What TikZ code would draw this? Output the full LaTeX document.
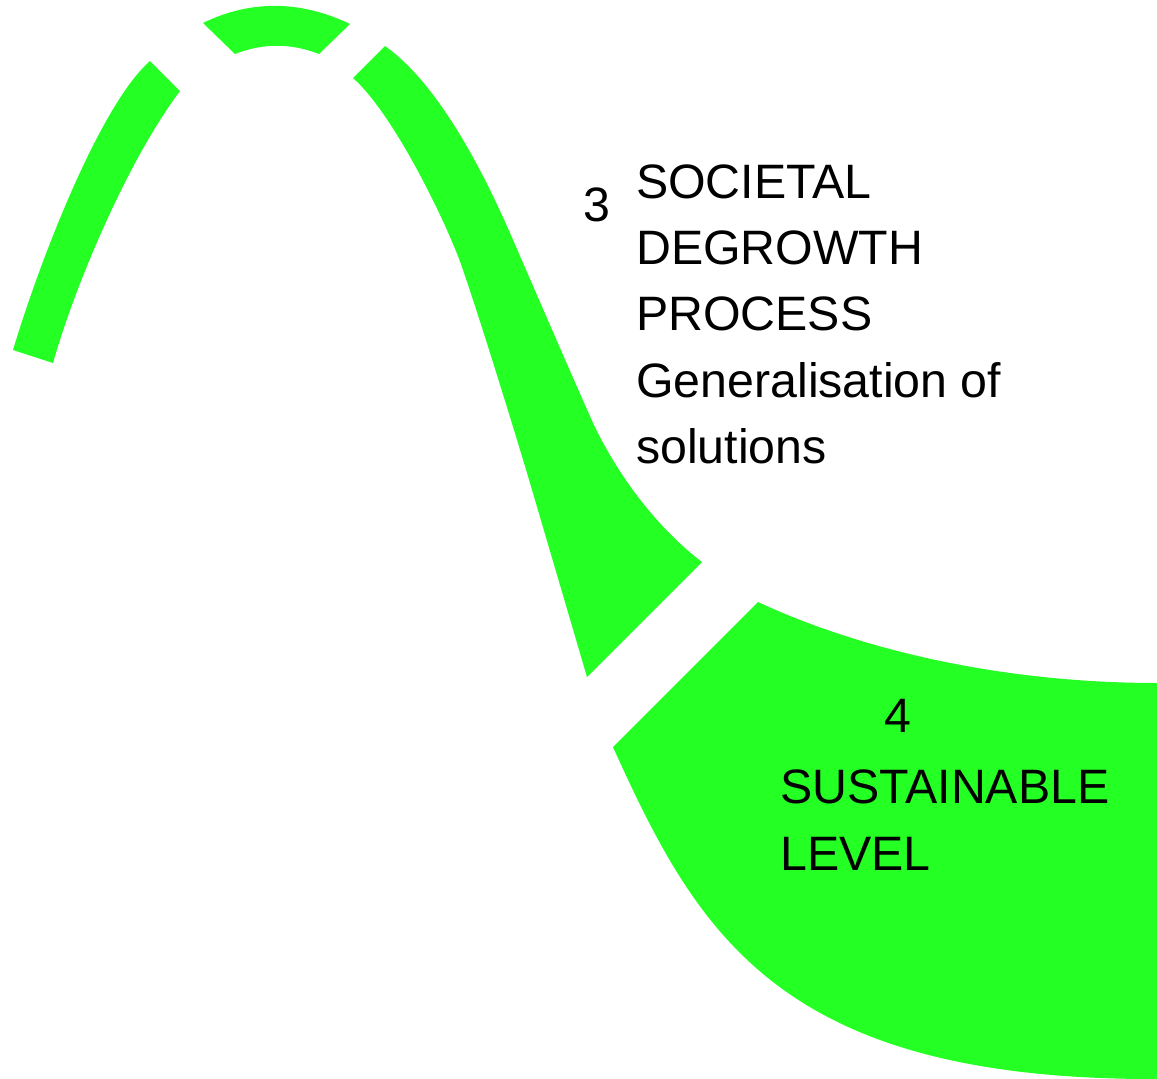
\documentclass[tikz,border=0pt]{standalone}
\usepackage{fontspec}
\setmainfont{Liberation Sans}
\definecolor{bandgreen}{RGB}{36,255,36}
\begin{document}
\begin{tikzpicture}[x=1pt,y=-1pt,
  band/.style={fill=bandgreen},
  lbl/.style={inner sep=0pt, anchor=base west, font=\fontsize{48.3}{58}\selectfont}]
\useasboundingbox (0,0) rectangle (1157,1079);
% segment 1: left rising arc
\fill[band] (13,350) .. controls (40,260) and (100,105) .. (150,61)
  -- (180,91) .. controls (128,160) and (75,285) .. (53,363) -- cycle;
% segment 2: top cap
\fill[band] (203,23) .. controls (250,0) and (300,0) .. (350,24)
  -- (319,54) .. controls (291,43) and (263,43) .. (235,54) -- cycle;
% segment 3: descending band
\fill[band] (353,78) -- (385,46)
  .. controls (440,85) and (485,176) .. (510,233)
  .. controls (537,295) and (565,360) .. (593,423)
  .. controls (620,480) and (660,530) .. (702,562)
  -- (587,677) -- (535,500)
  .. controls (522,455) and (482,325) .. (463,270)
  .. controls (450,230) and (395,115) .. (353,78) -- cycle;
% segment 4: sustainable level
\fill[band] (758,602) .. controls (850,645) and (990,683) .. (1158,683)
  -- (1158,1080) -- (1157,1079)
  .. controls (780,1080) and (698,935) .. (613,747) -- cycle;
% labels
\node[lbl] (n3) at (583,221) {3};
\node[lbl] (t1) at (636,198) {SOCIETAL};
\node[lbl] (t2) at (636,264) {DEGROWTH};
\node[lbl] (t3) at (636,330) {PROCESS};
\node[lbl] (t4) at (636,397) {Generalisation of};
\node[lbl] (t5) at (636,463) {solutions};
\node[lbl] (n4) at (884,732) {4};
\node[lbl] (s1) at (780,803) {SUSTAINABLE};
\node[lbl] (s2) at (780,870) {LEVEL};
\end{tikzpicture}
\end{document}
